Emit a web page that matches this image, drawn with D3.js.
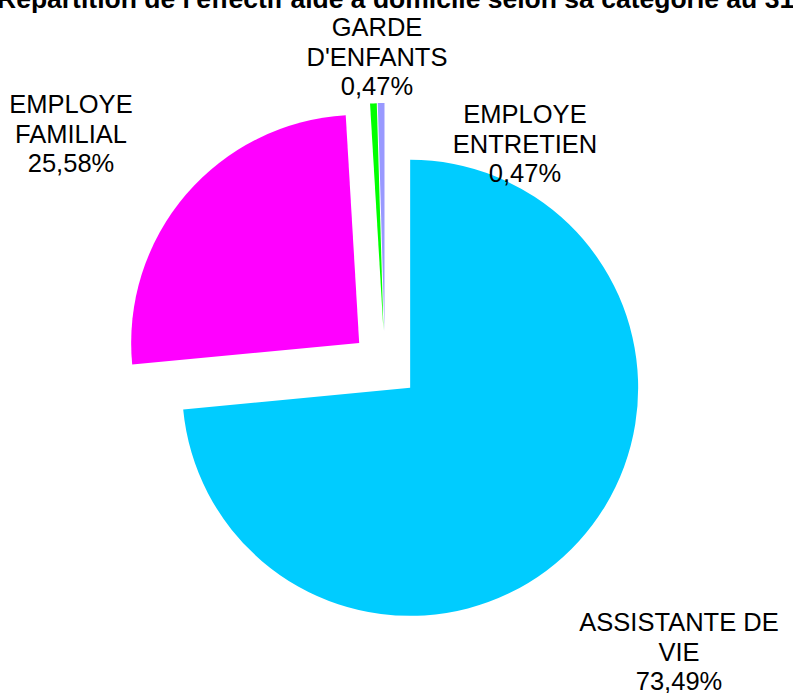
<!DOCTYPE html>
<html>
<head>
<meta charset="utf-8">
<script src="https://cdn.jsdelivr.net/npm/d3@7"></script>
<style>
  body { margin: 0; background: #fff; }
  svg { display: block; font-family: "Liberation Sans", Arial, sans-serif; }
</style>
</head>
<body>
<div id="chart"></div>
<script>
// Chart data
const categories = ["ASSISTANTE DE VIE", "EMPLOYE FAMILIAL", "GARDE D'ENFANTS", "EMPLOYE ENTRETIEN"];
const shares = [73.49, 25.58, 0.47, 0.47];
const colors = ["#00ccff", "#ff00ff", "#00ff00", "#9999ff"];

// label lines and where the first line of each label block sits
const labelLines = [["ASSISTANTE DE", "VIE"], ["EMPLOYE", "FAMILIAL"], ["GARDE", "D'ENFANTS"], ["EMPLOYE", "ENTRETIEN"]];
const labelAnchor = [[679, 631], [71, 113], [377, 36], [525, 123]];

const width = 793, height = 693;
const cx = 385, cy = 365, radius = 228, explode = 34;

const svg = d3.select("#chart")
    .append("svg")
    .attr("width", width)
    .attr("height", height);

// Title (runs past the edges in the original)
svg.append("text")
    .attr("x", -3)
    .attr("y", 8)
    .attr("font-size", "26.5px")
    .attr("font-weight", "bold")
    .text("Répartition de l'effectif aide à domicile selon sa catégorie au 31/12");

const pie = d3.pie().sort(null).value(d => d);
const arcs = pie(shares);
const arc = d3.arc().innerRadius(0).outerRadius(radius);

const g = svg.append("g").attr("transform", `translate(${cx},${cy})`);

// Slices, each pushed out from the centre
g.selectAll("path")
    .data(arcs)
    .enter()
    .append("path")
    .attr("fill", (d, i) => colors[i])
    .attr("transform", d => {
        const a = (d.startAngle + d.endAngle) / 2;
        return `translate(${explode * Math.sin(a)},${-explode * Math.cos(a)})`;
    })
    .attr("d", arc);

// Data labels
const fmt = v => v.toFixed(2).replace(".", ",") + "%";
const lineH = 29.5;
categories.forEach(function (c, i) {
    const lines = labelLines[i].concat([fmt(shares[i])]);
    const t = svg.append("text")
        .attr("text-anchor", "middle")
        .attr("font-size", "25.5px")
        .attr("fill", "#000");
    lines.forEach(function (s, j) {
        t.append("tspan")
            .attr("x", labelAnchor[i][0])
            .attr("y", labelAnchor[i][1] + j * lineH)
            .text(s);
    });
});
</script>
</body>
</html>
